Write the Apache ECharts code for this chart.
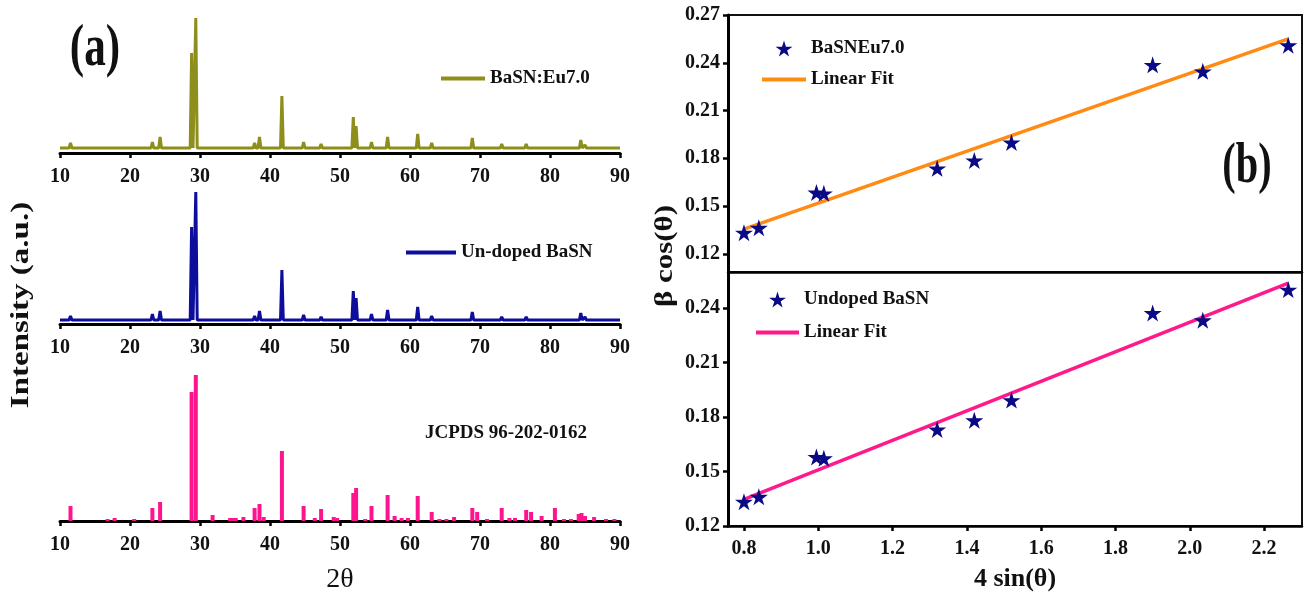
<!DOCTYPE html>
<html><head><meta charset="utf-8">
<script src="https://cdn.jsdelivr.net/npm/echarts@6/dist/echarts.min.js"></script>
<style>html,body{margin:0;padding:0;background:#fff}#c{width:1308px;height:601px}</style>
</head><body><div id="c"></div>
<script>
// ---------- (a) XRD patterns ----------
const peakPos    = [11.5, 23.2, 24.3, 28.8, 29.4, 31.8, 36.2, 37.8, 38.5, 41.7, 44.8, 46.5, 47.3, 49.2, 51.9, 52.3, 54.5, 56.8, 57.8, 61.1, 63.1, 66.5, 68.9, 69.6, 73.1, 76.6, 78.8, 80.7, 84.4, 85.0];
const eu7Int     = [10, 11, 16, 100, 135, 7, 5, 10, 16, 57, 11, 5, 9, 7, 36, 27, 11, 16, 5, 19, 10, 4, 15, 6, 9, 9, 5, 7, 13, 8];
const undopedInt = [8, 10, 13, 97, 132, 5, 4, 8, 13, 54, 9, 4, 7, 5, 33, 26, 10, 14, 4, 17, 8, 3, 12, 5, 7, 7, 4, 5, 11, 7];
const eu7Base = 5, undopedBase = 4;
const jcpdsPos = [11.5, 16.8, 17.8, 20.6, 23.2, 24.3, 28.8, 29.4, 31.8, 34.3, 34.7, 35.1, 36.2, 37.8, 38.5, 39.1, 41.7, 44.8, 46.4, 47.3, 49.1, 49.6, 51.9, 52.3, 53.6, 54.5, 56.8, 57.8, 58.8, 59.7, 61.1, 63.1, 64.2, 65.2, 66.3, 68.9, 69.6, 71.0, 73.1, 74.2, 75.0, 76.6, 77.3, 78.8, 80.7, 82.0, 83.0, 84.1, 84.5, 85.0, 86.3, 88.0, 89.2];
const jcpdsInt = [15, 2, 3, 2, 13, 19, 129, 146, 6, 3, 3, 3, 4, 13, 17, 4, 70, 15, 3, 12, 4, 3, 28, 33, 2, 15, 26, 5, 3, 3, 25, 9, 2, 2, 4, 13, 9, 2, 13, 3, 3, 11, 9, 5, 13, 2, 2, 7, 8, 5, 4, 2, 2];
const twoThetaRange = [10, 90];

// ---------- (b) Williamson-Hall ----------
const sinX        = [0.80, 0.84, 0.995, 1.015, 1.32, 1.42, 1.52, 1.90, 2.035, 2.265];
const bcosEu      = [0.1333, 0.1364, 0.1585, 0.1580, 0.1737, 0.1787, 0.1900, 0.2387, 0.2346, 0.2510];
const bcosUndoped = [0.1334, 0.1361, 0.1581, 0.1573, 0.1732, 0.1783, 0.1894, 0.2374, 0.2334, 0.2503];
const fitX        = [0.80, 2.265];
const fitEu       = [0.1355, 0.2550];
const fitUndoped  = [0.1347, 0.2539];
const yTicksTop    = [0.12, 0.15, 0.18, 0.21, 0.24, 0.27];
const yTicksBottom = [0.12, 0.15, 0.18, 0.21, 0.24];
const xTicksWH     = [0.8, 1.0, 1.2, 1.4, 1.6, 1.8, 2.0, 2.2];

const FONT = "'Liberation Serif', 'Times New Roman', serif";
const STAR = 'path://M50,0 L61,35 L98,35 L68,57 L79,91 L50,70 L21,91 L32,57 L2,35 L39,35 Z';
const NAVY = '#0a0a84';

function trace(pos, ints, base) {
  const pts = [[twoThetaRange[0], base]];
  pos.forEach((p, i) => { pts.push([p - 0.2, base], [p, ints[i]], [p + 0.2, base]); });
  pts.push([twoThetaRange[1], base]);
  return pts;
}
const zip = (xs, ys) => xs.map((x, i) => [x, ys[i]]);

const lblStyle = { fontFamily: FONT, fontWeight: 'bold', fontSize: 20, color: '#111' };
const legStyle = { fontFamily: FONT, fontWeight: 'bold', fontSize: 19, color: '#111' };

function xrdX(gridIndex, extra) {
  return Object.assign({
    type: 'value', gridIndex, min: 10, max: 90, interval: 10,
    axisLine: { show: true, onZero: false, lineStyle: { color: '#000', width: 3 } },
    axisTick: { show: true, inside: false, length: 5, lineStyle: { color: '#000', width: 2.5 } },
    axisLabel: Object.assign({ margin: 14 }, lblStyle),
    splitLine: { show: false }
  }, extra || {});
}
function xrdY(gridIndex, max) {
  return { type: 'value', gridIndex, min: 0, max, show: false, splitLine: { show: false } };
}

const whX = (gridIndex, showLabels, extra) => Object.assign({
  type: 'value', gridIndex, min: 0.757, max: 2.302,
  axisLine: { show: true, onZero: false, lineStyle: { color: '#000', width: 2.5 } },
  axisTick: { show: showLabels, length: 5, customValues: xTicksWH, lineStyle: { color: '#000', width: 2.5 } },
  axisLabel: Object.assign({ show: showLabels, margin: 13, customValues: xTicksWH, formatter: v => v.toFixed(1) }, lblStyle),
  splitLine: { show: false }
}, extra || {});
const whY = (gridIndex, min, max, ticks) => ({
  type: 'value', gridIndex, min, max,
  axisLine: { show: true, onZero: false, lineStyle: { color: '#000', width: 3 } },
  axisTick: { show: true, length: 5, customValues: ticks, lineStyle: { color: '#000', width: 2.5 } },
  axisLabel: Object.assign({ margin: 8, customValues: ticks, formatter: v => v.toFixed(2) }, lblStyle),
  splitLine: { show: false }
});

const hideSym = { itemStyle: { opacity: 0 } };

const chart = echarts.init(document.getElementById('c'), null, { renderer: 'canvas' });
chart.setOption({
  animation: false,
  backgroundColor: '#fff',
  grid: [
    { left: 60, width: 560, top: 15, height: 138 },
    { left: 60, width: 560, top: 186, height: 138 },
    { left: 60, width: 560, top: 371, height: 150 },
    { left: 728, right: 6, top: 15, height: 257, show: true, borderColor: '#111', borderWidth: 2 },
    { left: 728, right: 6, top: 272, height: 254, show: true, borderColor: '#111', borderWidth: 2 }
  ],
  xAxis: [
    xrdX(0), xrdX(1),
    xrdX(2, { name: '2θ', nameLocation: 'middle', nameGap: 45,
      nameTextStyle: { fontFamily: FONT, fontSize: 28, color: '#111' } }),
    whX(3, false),
    whX(4, true, { name: '4 sin(θ)', nameLocation: 'middle', nameGap: 40,
      nameTextStyle: { fontFamily: FONT, fontWeight: 'bold', fontSize: 26, color: '#111' } })
  ],
  yAxis: [
    xrdY(0, 138), xrdY(1, 138), xrdY(2, 150),
    whY(3, 0.1086, 0.27, yTicksTop),
    whY(4, 0.12, 0.26, yTicksBottom)
  ],
  legend: [
    { orient: 'vertical', padding: 0, left: 439, top: 69, itemWidth: 44, itemHeight: 14,
      data: [Object.assign({ name: 'BaSN:Eu7.0' }, hideSym)], lineStyle: { width: 4 }, textStyle: legStyle },
    { orient: 'vertical', padding: 0, left: 404, top: 243, itemWidth: 50, itemHeight: 14,
      data: [Object.assign({ name: 'Un-doped BaSN' }, hideSym)], lineStyle: { width: 4 }, textStyle: legStyle },
    { orient: 'vertical', padding: 0, left: 760, top: 39, itemWidth: 44, itemHeight: 16, itemGap: 12,
      data: ['BaSNEu7.0', Object.assign({ name: 'Linear Fit' }, hideSym)], lineStyle: { width: 4 }, textStyle: legStyle },
    { orient: 'vertical', padding: 0, left: 754, top: 290, itemWidth: 43, itemHeight: 16, itemGap: 14,
      data: ['Undoped BaSN', Object.assign({ name: 'Linear Fit ' }, hideSym)], lineStyle: { width: 4 }, textStyle: legStyle }
  ],
  series: [
    { name: 'BaSN:Eu7.0', type: 'line', xAxisIndex: 0, yAxisIndex: 0, data: trace(peakPos, eu7Int, eu7Base),
      showSymbol: false, symbol: 'none', lineStyle: { color: '#8e8e1c', width: 3 }, itemStyle: { color: '#8e8e1c' } },
    { name: 'Un-doped BaSN', type: 'line', xAxisIndex: 1, yAxisIndex: 1, data: trace(peakPos, undopedInt, undopedBase),
      showSymbol: false, symbol: 'none', lineStyle: { color: '#0e0e9c', width: 3 }, itemStyle: { color: '#0e0e9c' } },
    { name: 'JCPDS 96-202-0162', type: 'bar', xAxisIndex: 2, yAxisIndex: 2, data: zip(jcpdsPos, jcpdsInt),
      barWidth: 4, itemStyle: { color: '#ff1490' } },
    { name: 'BaSNEu7.0', type: 'scatter', xAxisIndex: 3, yAxisIndex: 3, data: zip(sinX, bcosEu),
      symbol: STAR, symbolSize: [18, 17], itemStyle: { color: NAVY, opacity: 1 }, z: 3 },
    { name: 'Linear Fit', type: 'line', xAxisIndex: 3, yAxisIndex: 3, data: zip(fitX, fitEu),
      showSymbol: false, symbol: 'none', lineStyle: { color: '#ff8a14', width: 3.5 }, itemStyle: { color: '#ff8a14' }, z: 2 },
    { name: 'Undoped BaSN', type: 'scatter', xAxisIndex: 4, yAxisIndex: 4, data: zip(sinX, bcosUndoped),
      symbol: STAR, symbolSize: [18, 17], itemStyle: { color: NAVY, opacity: 1 }, z: 3 },
    { name: 'Linear Fit ', type: 'line', xAxisIndex: 4, yAxisIndex: 4, data: zip(fitX, fitUndoped),
      showSymbol: false, symbol: 'none', lineStyle: { color: '#ff1a8c', width: 3.5 }, itemStyle: { color: '#ff1a8c' }, z: 2 }
  ],
  graphic: [
    { type: 'text', x: 95, y: 49, scaleX: 0.72, style: { text: '(a)', font: 'bold 60px ' + FONT, fill: '#111', align: 'center', verticalAlign: 'middle' } },
    { type: 'text', x: 1247, y: 168, scaleX: 0.72, style: { text: '(b)', font: 'bold 56px ' + FONT, fill: '#111', align: 'center', verticalAlign: 'middle' } },
    { type: 'text', x: 21, y: 305, rotation: Math.PI / 2, scaleY: 0.78, style: { text: 'Intensity (a.u.)', font: 'bold 33px ' + FONT, fill: '#111', align: 'center', verticalAlign: 'middle' } },
    { type: 'text', x: 666, y: 256, rotation: Math.PI / 2, scaleY: 0.8, style: { text: 'β cos(θ)', font: 'bold 31px ' + FONT, fill: '#111', align: 'center', verticalAlign: 'middle' } },
    { type: 'text', x: 506, y: 433, style: { text: 'JCPDS 96-202-0162', font: 'bold 19px ' + FONT, fill: '#111', align: 'center', verticalAlign: 'middle' } }
  ]
});
</script></body></html>
